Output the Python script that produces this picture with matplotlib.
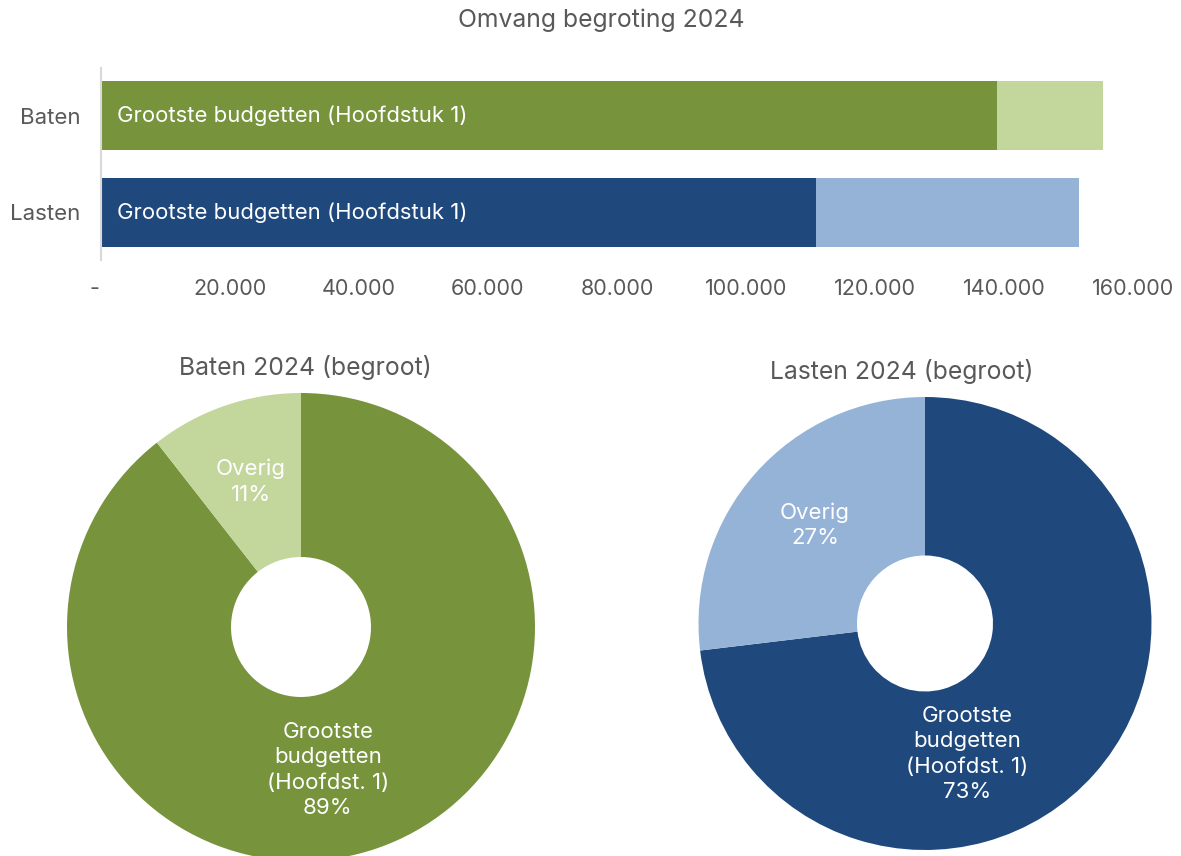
import matplotlib
matplotlib.use("Agg")
import matplotlib.pyplot as plt

plt.rcParams['font.family'] = ['Inter', 'DejaVu Sans']

# Data
categories = ["Lasten", "Baten"]
grootste = [110850, 138900]
overig = [40800, 16400]
bar_label = "Grootste budgetten (Hoofdstuk 1)"
xticks = [0, 20000, 40000, 60000, 80000, 100000, 120000, 140000, 160000]
xticklabels = ["-  ", "20.000", "40.000", "60.000", "80.000", "100.000", "120.000", "140.000", "160.000"]

baten_vals = [grootste[1], overig[1]]
lasten_vals = [grootste[0], overig[0]]
pie_labels = ["Grootste\nbudgetten\n(Hoofdst. 1)", "Overig"]

GREEN_D, GREEN_L = "#77933C", "#C3D69B"
BLUE_D, BLUE_L = "#1F497D", "#95B3D7"
TXT = "#595959"

W, H = 1181, 856
fig = plt.figure(figsize=(W / 100, H / 100), dpi=100)

def fx(px):
    return px / W

def fy(py):
    return 1 - py / H

# ---- Bar chart ----
axb = fig.add_axes([fx(101), fy(260), fx(1133 - 101), (260 - 68) / H])
ypos = [0, 1]
dark_cols = [BLUE_D, GREEN_D]
light_cols = [BLUE_L, GREEN_L]
axb.barh(ypos, grootste, height=0.71, color=dark_cols)
axb.barh(ypos, overig, left=grootste, height=0.71, color=light_cols)
for y in ypos:
    axb.text(2500, y, bar_label, color="white", fontsize=15.9, va="center", ha="left")
axb.set_xlim(0, 160000)
axb.set_ylim(-0.49, 1.49)
axb.set_yticks(ypos)
axb.set_yticklabels(categories, fontsize=16, color=TXT)
axb.set_xticks(xticks)
axb.set_xticklabels(xticklabels, fontsize=15.5, color=TXT)
axb.tick_params(axis="both", length=0)
axb.tick_params(axis="x", pad=14)
axb.tick_params(axis="y", pad=15)
for s in ["top", "right", "bottom"]:
    axb.spines[s].set_visible(False)
axb.spines["left"].set_color("#D9D9D9")
axb.spines["left"].set_linewidth(1.5)
fig.text(fx(601), fy(20), "Omvang begroting 2024", ha="center", va="center", fontsize=17.8, color=TXT)

# ---- Pies ----
def donut(cx, cy, r, hole, vals, cols, title, tpos, lab_main, lab_ov):
    ax = fig.add_axes([fx(cx - r), fy(cy + r), 2 * r / W, 2 * r / H])
    ax.pie(vals, colors=cols, startangle=90, counterclock=False,
           radius=1, wedgeprops=dict(width=1 - hole / r, linewidth=0))
    ax.set_xlim(-1, 1)
    ax.set_ylim(-1, 1)
    ax.set_aspect("equal")
    ax.axis("off")
    tot = sum(vals)
    pct = [round(100 * v / tot) for v in vals]
    ax.text(lab_main[0], lab_main[1], f"{pie_labels[0]}\n{pct[0]}%", ha="center", va="center",
            color="white", fontsize=16, linespacing=1.34)
    ax.text(lab_ov[0], lab_ov[1], f"{pie_labels[1]}\n{pct[1]}%", ha="center", va="center",
            color="white", fontsize=16, linespacing=1.34)
    fig.text(fx(tpos[0]), fy(tpos[1]), title, ha="center", va="center", fontsize=17.8, color=TXT)

donut(301, 627, 234, 70, baten_vals, [GREEN_D, GREEN_L], "Baten 2024 (begroot)", (305, 367),
      (0.115, -0.611), (-0.214, 0.62))
donut(925, 623.5, 226.5, 68, lasten_vals, [BLUE_D, BLUE_L], "Lasten 2024 (begroot)", (902, 372),
      (0.185, -0.576), (-0.486, 0.433))

fig.savefig("out.png", dpi=100)
